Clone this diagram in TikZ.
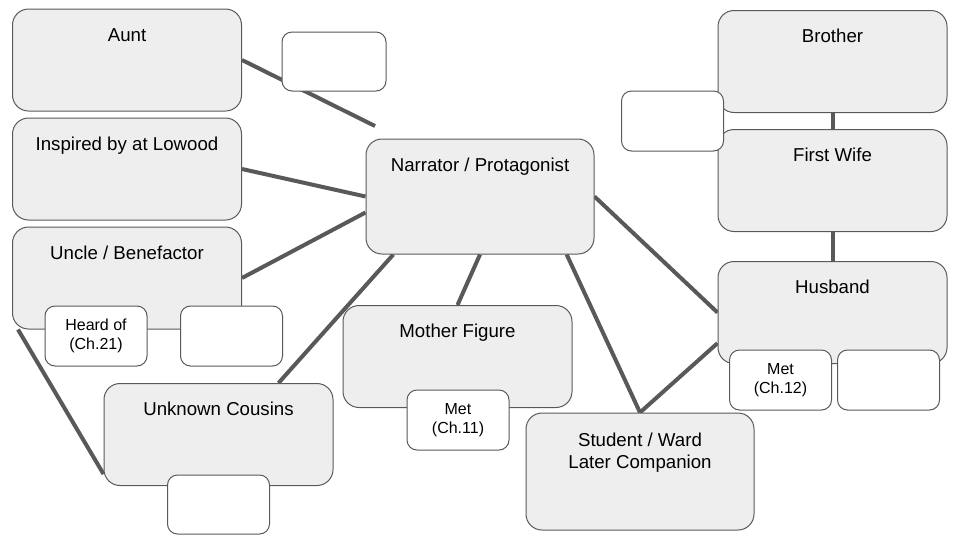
\documentclass[tikz,border=0pt]{standalone}
\usepackage{fontspec}
\setmainfont{Liberation Sans}
\usetikzlibrary{positioning, backgrounds}

\definecolor{boxfill}{HTML}{EEEEEE}
\definecolor{linegray}{HTML}{595959}

\tikzset{
  person/.style={draw=linegray, line width=0.75pt, fill=boxfill, rounded corners=12pt,
    minimum width=171.75pt, inner xsep=0pt, inner ysep=0pt, align=center,
    font=\fontsize{14}{16.1}\selectfont, text height=24pt, text depth=#1},
  person/.default=52.5pt,
  note/.style={draw=linegray, line width=0.75pt, fill=white, rounded corners=7.5pt,
    minimum width=76.5pt, minimum height=45pt, inner sep=0pt, align=center,
    font=\fontsize{12}{14}\selectfont},
  link/.style={draw=linegray, line width=3pt},
}

\begin{document}
\begin{tikzpicture}[x=0.75pt, y=-0.75pt, node distance=4.5pt]
    \useasboundingbox (0,0) rectangle (960,540);

    % left column
    \node[person] (aunt) at (127,60) {Aunt};
    \node[person, below=of aunt] (insp) {Inspired by at Lowood};
    \node[person, below=of insp] (uncle) {Uncle / Benefactor};
    \node[person] (cousins) at (218.5,434.5) {Unknown Cousins};

    % centre
    \node[person=62.25pt, minimum width=171pt] (narr) at (480,196.5) {Narrator / Protagonist};
    \node[person] (mother) at (457.5,356.5) {Mother Figure};
    \node[person=46.5pt, text height=41.25pt, minimum width=171pt] (student) at (640,471.5) {Student / Ward\\Later Companion};

    % right column
    \node[person] (brother) at (832.5,61.5) {Brother};
    \node[person, below=12pt of brother] (wife) {First Wife};
    \node[person, below=21.75pt of wife] (husband) {Husband};

    % small notes
    \node[note, minimum width=78pt, minimum height=44.25pt] (auntnote) at (334,61.5) {};
    \node[note] (heard) at (96,336) {Heard of\\(Ch.21)};
    \node[note] (unclenote) at (231.5,336) {};
    \node[note, minimum height=44.25pt] (cousinsnote) at (218.5,504.5) {};
    \node[note] (met11) at (458,420) {Met\\(Ch.11)};
    \node[note] (brothernote) at (672.5,121) {};
    \node[note] (met12) at (780.5,380) {Met\\(Ch.12)};
    \node[note] (husbandnote) at (888.5,380) {};

    % connectors
    \begin{scope}[on background layer]
        \coordinate (auntend) at (375,126);
        \draw[link] (aunt.east) -- (auntend);
        \draw[link] (insp.east) -- (narr.west);
        \draw[link] (uncle.east) -- ([yshift=-12pt]narr.west);
        \draw[link] ([xshift=4.5pt]uncle.south west) -- ([yshift=9pt]cousins.south west);
        \draw[link] ([xshift=45pt]cousins.north) -- ([xshift=-65pt]narr.south);
        \draw[link] (narr.south) -- (mother.north);
        \draw[link] ([xshift=65pt]narr.south) -- (student.north);
        \draw[link] (narr.east) -- (husband.west);
        \draw[link] ([yshift=-23pt]husband.west) -- (student.north);
        \draw[link] (brother.south) -- (wife.north);
        \draw[link] (wife.south) -- (husband.north);
    \end{scope}
\end{tikzpicture}
\end{document}
